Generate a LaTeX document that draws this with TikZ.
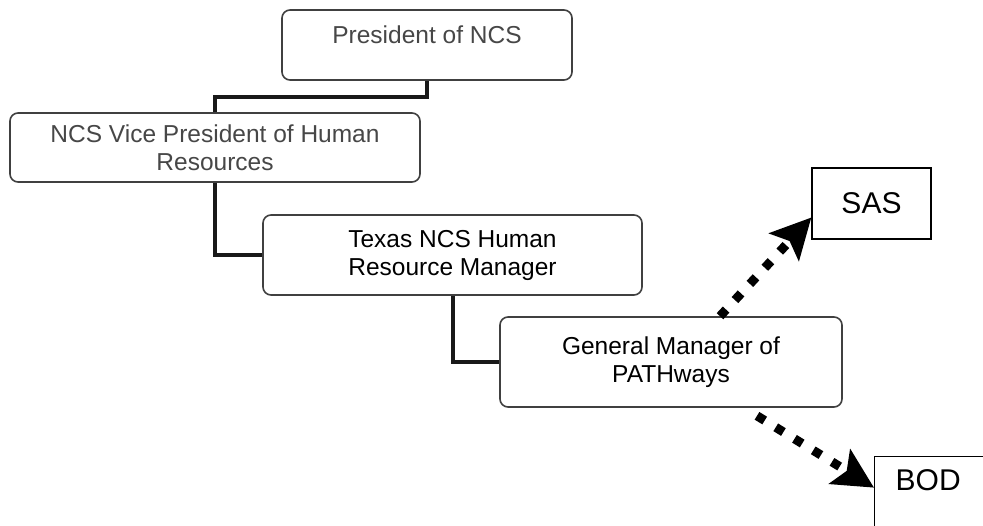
\documentclass[tikz,border=0pt]{standalone}
\usepackage{fontspec}
\setmainfont{Liberation Sans}
\usepackage{tikz}
\usetikzlibrary{arrows.meta,positioning,calc}

\begin{document}
\begin{tikzpicture}[x=1pt, y=-1pt,
  font=\fontsize{24.5}{28}\selectfont,
  post/.style={draw=black!75,line width=1.6pt,rounded corners=8pt,align=center,inner sep=0pt,fill=white},
  grey/.style={text=black!72},
  unit/.style={draw,line width=1.3pt,inner sep=0pt,font=\fontsize{30}{36}\selectfont},
  link/.style={line width=4pt,black!90},
  tie/.style={line width=9pt,dash pattern=on 9pt off 13pt,-{Stealth[length=40pt,width=40pt,inset=8pt]}}]
 \useasboundingbox (0,0) rectangle (983,525);
 \clip (0,0) rectangle (983,525);
 % chain of managers
 \node[post,grey,minimum width=290,minimum height=70] (pres) at (427,45) {President of NCS\\[-16pt] \strut};
 \node[post,grey,minimum width=410,minimum height=69] (vp) at (215,147.5) {NCS Vice President of Human\\Resources};
 \node[post,minimum width=379,minimum height=80] (tex) at (452.5,255) {Texas NCS Human\\Resource Manager};
 \node[post,minimum width=342,minimum height=90] (gm) at (671,362) {General Manager of\\PATHways};
 \draw[link] (pres.south) |- ($(pres.south)!0.5!(vp.north)$) -| (vp.north);
 \draw[link] (vp.south) |- (tex.west);
 \draw[link] (tex.south) |- (gm.west);
 % outside bodies
 \node[unit,minimum width=119,minimum height=71] (sas) at (871.5,203.5) {SAS};
 \node[unit,anchor=north west,minimum height=94,text width=110pt,inner xsep=21pt,align=left] (bod) at (874,456) {BOD\\ \strut};
 \draw[tie] ([xshift=49pt]gm.north) -- ([yshift=-14pt]sas.west);
 \draw[tie] ([xshift=86pt,yshift=-8pt]gm.south) -- ([yshift=16pt]bod.west);
\end{tikzpicture}
\end{document}
